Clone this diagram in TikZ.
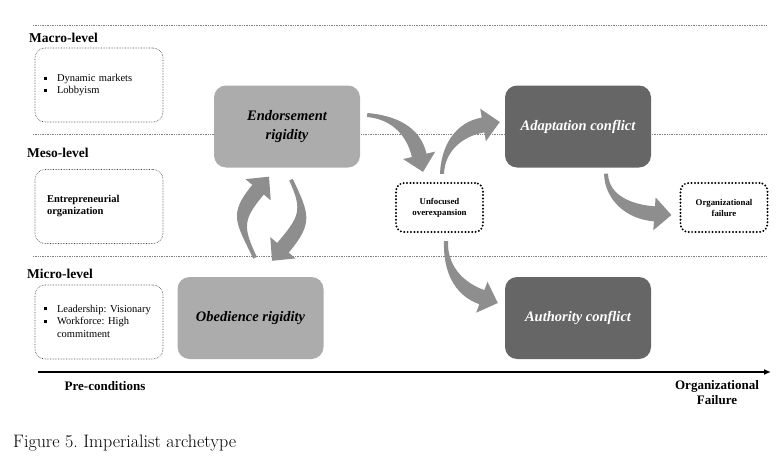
\documentclass[tikz,border=0pt]{standalone}
\usepackage{fontspec}
\usepackage{tikz}
\usetikzlibrary{calc,arrows.meta}
\newfontfamily\tnr{Liberation Serif}
\definecolor{lightbox}{RGB}{172,172,172}
\definecolor{darkbox}{RGB}{102,102,102}
\definecolor{arrowgrey}{RGB}{142,142,142}
\frenchspacing
\newcommand{\bul}{\rule[1.6pt]{3pt}{3pt}}
% tapered bent arrow: [looseness] tail, out angle, tip, head angle
\newcommand{\bentarrow}[5][1]{%
  \pgfmathsetmacro{\bentBack}{#5+180}\pgfmathsetmacro{\bentLeft}{#5+90}\pgfmathsetmacro{\bentRight}{#5-90}%
  \pgfmathsetmacro{\bentTL}{#3+90}\pgfmathsetmacro{\bentTR}{#3-90}%
  \fill[bentfill] ($(#2)+(\bentTL:2)$) to[out=#3,in=\bentBack,looseness=#1] ($(#4)+(\bentBack:17)+(\bentLeft:7.5)$)
    -- ($(#4)+(\bentBack:17)+(\bentLeft:16.5)$) -- (#4) -- ($(#4)+(\bentBack:17)+(\bentRight:16.5)$)
    -- ($(#4)+(\bentBack:17)+(\bentRight:7.5)$) to[out=\bentBack,in=#3,looseness=#1] ($(#2)+(\bentTR:2)$) -- cycle;}
\tikzset{
  levelbox/.style={draw=black!75, densely dotted, line width=0.6pt, rounded corners=10pt,
    minimum width=128pt, minimum height=74pt, text width=110pt, inner xsep=9pt, align=left,
    font=\tnr\fontsize{10.5}{12.5}\selectfont},
  rigidbox/.style={fill=lightbox, rounded corners=12pt, minimum width=146pt, minimum height=82pt,
    align=center, font=\tnr\bfseries\itshape\fontsize{14.5}{19.5}\selectfont},
  conflictbox/.style={rigidbox, fill=darkbox, text=white},
  outcomebox/.style={draw, line width=2.2pt, dash pattern=on 0pt off 3.4pt, line cap=round,
    rounded corners=8pt, minimum width=87pt, minimum height=49pt, align=center,
    font=\tnr\bfseries\fontsize{8.8}{11}\selectfont},
  levellabel/.style={anchor=base west, inner sep=0pt, font=\tnr\bfseries\fontsize{13.5}{16}\selectfont},
  axislabel/.style={inner sep=0pt, align=center, font=\tnr\bfseries\fontsize{13}{15}\selectfont},
  levelline/.style={draw=black!50, densely dotted, line width=0.7pt},
  bentfill/.style={fill=arrowgrey},
}
\begin{document}
\begin{tikzpicture}[x=1pt,y=1pt]
\useasboundingbox (0,0) rectangle (784,-463);
% levels
\draw[levelline] (33,-25) -- (767,-25);
\draw[levelline] (33,-134) -- (767,-134);
\draw[levelline] (33,-256) -- (767,-256);
\node[levellabel] (macro) at (29,-42) {Macro-level};
\node[levellabel] (meso) at (27,-157) {Meso-level};
\node[levellabel] (micro) at (27,-278) {Micro-level};
% pre-conditions
\node[levelbox] (markets) at (99,-85) {\begin{tabular}{@{}l@{\hspace{10pt}}l@{}}
  \bul & Dynamic markets\\ \bul & Lobbyism\end{tabular}};
\node[levelbox, font=\tnr\bfseries\fontsize{10.5}{12}\selectfont] (entre) at (99,-206.5)
  {\hspace{3pt}Entrepreneurial\\\hspace{3pt}organization};
\node[levelbox] (leader) at (99,-322) {\begin{tabular}{@{}l@{\hspace{10pt}}l@{}}
  \bul & Leadership: Visionary\\ \bul & Workforce: High\\ & commitment\end{tabular}};
% rigidities and conflicts
\node[rigidbox] (endorse) at (287,-126.5) {Endorsement\\rigidity};
\node[rigidbox] (obedience) at (250.5,-318) {Obedience rigidity};
\node[conflictbox] (adapt) at (578,-126.5) {Adaptation conflict};
\node[conflictbox] (authority) at (578,-318) {Authority conflict};
\node[outcomebox] (unfocused) at (439.5,-207.5) {Unfocused\\overexpansion};
\node[outcomebox] (failure) at (724,-207.5) {Organizational\\failure};
% arrow ends
\coordinate (e2u-tail) at ($(endorse.east)+(7,11.5)$);
\coordinate (e2u-tip) at ($(unfocused.north)+(-16.5,10)$);
\coordinate (u2a-tail) at ($(unfocused.north)+(2.5,8)$);
\coordinate (u2a-tip) at ($(adapt.west)+(-5,4.5)$);
\coordinate (a2f-tail) at ($(adapt.south)+(28,-6)$);
\coordinate (a2f-tip) at ($(failure.west)+(-8,-7.5)$);
\coordinate (u2c-tail) at ($(unfocused.south)+(6.5,-8)$);
\coordinate (u2c-tip) at ($(authority.west)+(-7,15)$);
\coordinate (o2e-tail) at ($(obedience.north)+(4.5,19)$);
\coordinate (o2e-tip) at ($(endorse.south)+(-18,-9)$);
\coordinate (e2o-tail) at ($(endorse.south)+(4,-12)$);
\coordinate (e2o-tip) at ($(obedience.north)+(21.5,16)$);
\bentarrow{e2u-tail}{-5}{e2u-tip}{-77}
\bentarrow{u2a-tail}{88}{u2a-tip}{10}
\bentarrow{a2f-tail}{-88}{a2f-tip}{-4}
\bentarrow{u2c-tail}{-92}{u2c-tip}{-20}
\bentarrow[1.35]{o2e-tail}{115}{o2e-tip}{50}
\bentarrow[1.35]{e2o-tail}{-65}{e2o-tip}{-130}
% time axis
\coordinate (axis-start) at (38,-372);
\coordinate (axis-end) at (771,-372);
\draw[line width=1.4pt, -{Latex[length=7pt,width=6pt]}] (axis-start) -- (axis-end);
\node[axislabel, anchor=base] (pre) at (105,-390) {Pre-conditions};
\node[axislabel, anchor=north] (orgfail) at (717,-380.5) {Organizational\\Failure};
\node[anchor=base west, inner sep=0pt, font=\fontsize{18}{22}\selectfont] (caption) at (13,-447)
  {Figure 5. Imperialist archetype};
\end{tikzpicture}
\end{document}
